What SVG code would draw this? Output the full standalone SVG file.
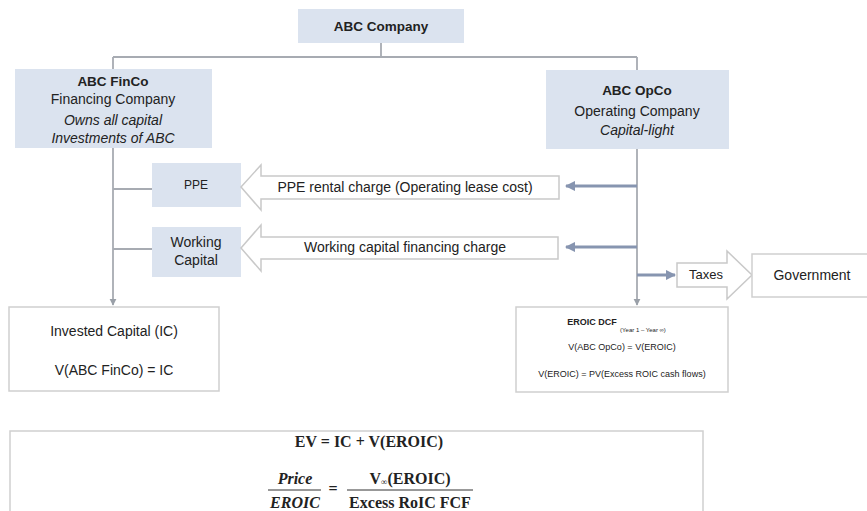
<svg xmlns="http://www.w3.org/2000/svg" width="867" height="511" viewBox="0 0 867 511">
  <defs>
    <marker id="tipGrey" viewBox="0 0 10 10" refX="9" refY="5" markerWidth="4" markerHeight="4" orient="auto">
      <path d="M0,0 L10,5 L0,10 Z" fill="#9aa0a8"/>
    </marker>
    <marker id="tipBlue" viewBox="0 0 10 10" refX="9" refY="5" markerWidth="3.5" markerHeight="3.5" orient="auto">
      <path d="M0,0 L10,5 L0,10 Z" fill="#8795b0"/>
    </marker>
  </defs>
  <style>
    .entity { fill: #dbe3ef; stroke: none; }
    .plain { fill: #ffffff; stroke: #cfcfcf; stroke-width: 1.5; }
    .flow { fill: #ffffff; stroke: #c9c9c9; stroke-width: 1.5; stroke-linejoin: miter; }
    .tree { fill: none; stroke: #a7abb2; stroke-width: 1.8; }
    .charge { fill: none; stroke: #8795b0; stroke-width: 3; }
    text { font-family: "Liberation Sans", Arial, sans-serif; font-size: 14px; fill: #222222; text-anchor: middle; dominant-baseline: middle; }
    .head { font-weight: bold; font-size: 13.5px; }
    .note { font-style: italic; }
    .small { font-size: 9px; }
    .tiny { font-size: 6px; }
    .math { font-family: "Liberation Serif", "Times New Roman", serif; font-weight: bold; font-size: 16px; }
    .mathIt { font-family: "Liberation Serif", "Times New Roman", serif; font-weight: bold; font-style: italic; font-size: 16px; }
  </style>
  <rect width="867" height="511" fill="#ffffff"/>

  <!-- connectors -->
  <g id="connectors">
    <path class="tree" d="M381,43 V57 M113,57 H637 M113,57 V70 M637,57 V70"/>
    <path class="tree" d="M113,148 V305" marker-end="url(#tipGrey)"/>
    <path class="tree" d="M637,149 V305" marker-end="url(#tipGrey)"/>
    <path class="tree" d="M113,189 H152 M113,249 H152"/>
    <path class="charge" d="M637,186 H566" marker-end="url(#tipBlue)"/>
    <path class="charge" d="M637,247 H566" marker-end="url(#tipBlue)"/>
    <path class="charge" d="M637,275 H675" marker-end="url(#tipBlue)"/>
  </g>

  <!-- parent company -->
  <g id="abc-company">
    <rect class="entity" x="298" y="9" width="166" height="34"/>
    <text class="head" x="381" y="27">ABC Company</text>
  </g>

  <!-- financing company -->
  <g id="abc-finco">
    <rect class="entity" x="15" y="69" width="197" height="79"/>
    <text class="head" x="113" y="82">ABC FinCo</text>
    <text x="113" y="100">Financing Company</text>
    <text class="note" x="113" y="121">Owns all capital</text>
    <text class="note" x="113" y="139">Investments of ABC</text>
  </g>

  <!-- operating company -->
  <g id="abc-opco">
    <rect class="entity" x="546" y="70" width="183" height="79"/>
    <text class="head" x="637" y="91">ABC OpCo</text>
    <text x="637" y="112">Operating Company</text>
    <text class="note" x="637" y="131">Capital-light</text>
  </g>

  <!-- assets held by FinCo -->
  <g id="ppe">
    <rect class="entity" x="152" y="163" width="89" height="44"/>
    <text x="196" y="186" style="font-size:12px">PPE</text>
  </g>
  <g id="working-capital">
    <rect class="entity" x="152" y="227" width="89" height="50"/>
    <text x="196" y="243">Working</text>
    <text x="196" y="261">Capital</text>
  </g>

  <!-- charges paid by OpCo -->
  <g id="ppe-rental-charge">
    <polygon class="flow" points="241,187 261,165 261,176 559,176 559,199 261,199 261,210"/>
    <text x="405" y="188">PPE rental charge (Operating lease cost)</text>
  </g>
  <g id="wc-financing-charge">
    <polygon class="flow" points="241,248 261,225 261,237 558,237 558,259 261,259 261,271"/>
    <text x="405" y="248">Working capital financing charge</text>
  </g>

  <!-- taxes -->
  <g id="taxes">
    <polygon class="flow" points="677,263 727,263 727,251 752,275 727,299 727,287 677,287"/>
    <text x="706" y="276" style="font-size:13px">Taxes</text>
  </g>
  <g id="government">
    <rect class="plain" x="752" y="254" width="116" height="43"/>
    <text x="812" y="276">Government</text>
  </g>

  <!-- valuation boxes -->
  <g id="invested-capital">
    <rect class="plain" x="9" y="307" width="210" height="84"/>
    <text x="114" y="332">Invested Capital (IC)</text>
    <text x="114" y="371">V(ABC FinCo) = IC</text>
  </g>
  <g id="eroic-dcf">
    <rect class="plain" x="516" y="307" width="212" height="85"/>
    <text class="small" x="592" y="323" style="font-weight:bold">EROIC DCF</text>
    <text class="tiny" x="643" y="330">(Year 1 – Year ∞)</text>
    <text class="small" x="622" y="348">V(ABC OpCo) = V(EROIC)</text>
    <text class="small" x="622" y="375">V(EROIC) = PV(Excess ROIC cash flows)</text>
  </g>

  <!-- enterprise value -->
  <g id="enterprise-value">
    <rect class="plain" x="10" y="431" width="693" height="95"/>
    <text class="math" x="369" y="443">EV = IC + V(EROIC)</text>
    <text class="mathIt" x="295" y="480">Price</text>
    <line x1="268" y1="490" x2="321" y2="490" stroke="#333" stroke-width="1"/>
    <text class="mathIt" x="295" y="504">EROIC</text>
    <text class="math" x="333" y="490">=</text>
    <text class="math" x="410" y="480">V<tspan font-size="9" dy="3">∞</tspan><tspan dy="-3">(EROIC)</tspan></text>
    <line x1="347" y1="490" x2="473" y2="490" stroke="#333" stroke-width="1"/>
    <text class="math" x="410" y="504">Excess RoIC FCF</text>
  </g>
</svg>
